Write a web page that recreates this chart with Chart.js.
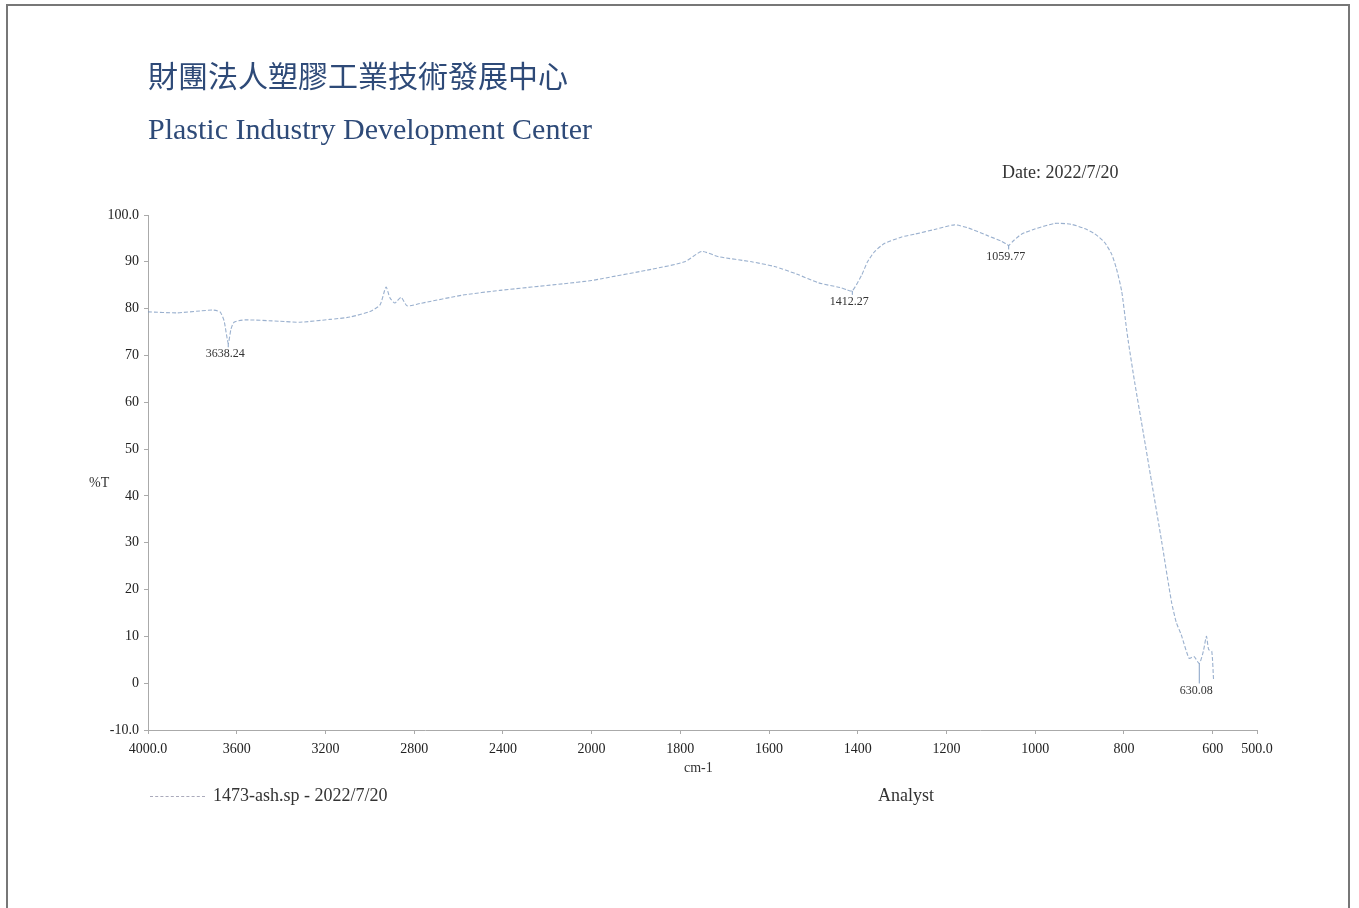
<!DOCTYPE html>
<html>
<head>
<meta charset="utf-8">
<script src="https://cdn.jsdelivr.net/npm/chart.js@4"></script>
<style>
  html, body { margin: 0; padding: 0; background: #fff; }
  body { width: 1359px; height: 908px; position: relative; overflow: hidden; font-family: "Liberation Serif", serif; }
  #chart { position: absolute; left: 0; top: 0; }
  .frame { position: absolute; left: 6px; top: 4px; width: 1344px; height: 920px; border: 2px solid #777; box-sizing: border-box; }
  .txt { position: absolute; white-space: nowrap; }
  .cjk { left: 148px; top: 59px; font: 30px/30px "Noto Sans CJK TC", sans-serif; color: #2e4a78; }
  .eng { left: 148px; top: 114px; font: 30px/30px "Liberation Serif", serif; color: #2e4a78; }
  .date { left: 1002px; top: 163px; font: 18px/18px "Liberation Serif", serif; color: #333; }
  .ylab { left: 89px; top: 475px; font: 14px/16px "Liberation Serif", serif; color: #333; }
  .xlab { left: 684px; top: 760px; font: 14px/16px "Liberation Serif", serif; color: #333; }
  .legend { left: 150px; top: 786px; font: 18px/18px "Liberation Serif", serif; color: #333; }
  .legend .swatch { display: inline-block; width: 55px; border-top: 1px dashed #aab; vertical-align: middle; margin-right: 8px; }
  .analyst { left: 878px; top: 786px; font: 18px/18px "Liberation Serif", serif; color: #333; }
</style>
</head>
<body>
<div class="frame"></div>
<canvas id="chart" width="1359" height="908"></canvas>
<div class="txt cjk">財團法人塑膠工業技術發展中心</div>
<div class="txt eng">Plastic Industry Development Center</div>
<div class="txt date">Date: 2022/7/20</div>
<div class="txt ylab">%T</div>
<div class="txt xlab">cm-1</div>
<div class="txt legend"><span class="swatch"></span>1473-ash.sp - 2022/7/20</div>
<div class="txt analyst">Analyst</div>
<script>
// spectrum (wavenumber cm-1, %T)
const waveNumbers = [4000, 3869, 3766, 3707, 3675, 3657, 3638.24, 3626, 3612, 3563, 3405, 3315, 3180, 3090,
  2999, 2954, 2927, 2909, 2887, 2859, 2832, 2774, 2580, 2413, 2129, 2000, 1977, 1865, 1790, 1752, 1714,
  1639, 1588, 1538, 1488, 1440, 1424, 1412.27, 1391, 1378, 1362, 1340, 1301, 1272, 1227, 1182, 1150,
  1110, 1076, 1065, 1059.77, 1049, 1031, 1001, 956, 918, 889, 866, 844, 828, 817, 805, 794, 790, 776,
  756, 738, 715, 693, 682, 671, 653, 642, 630.08, 621, 614, 609, 602, 598];
const transmittance = [79.3, 79.1, 79.5, 79.7, 79.3, 77.4, 72.6, 75.6, 77.1, 77.6, 77.3, 77.1, 77.7, 78.2,
  79.4, 80.8, 84.6, 82.3, 81.2, 82.4, 80.6, 81.1, 82.9, 83.9, 85.3, 86.0, 86.4, 88.4, 90.0, 92.2, 91.1,
  90.0, 89.0, 87.4, 85.5, 84.5, 84.0, 83.8, 87.2, 90.0, 92.2, 93.9, 95.3, 95.9, 96.9, 97.9, 97.2,
  95.7, 94.4, 93.8, 93.5, 94.5, 95.9, 97.0, 98.2, 98.0, 97.1, 96.0, 94.2, 91.7, 88.6, 83.7, 75.6, 72.9, 64.4,
  53.3, 43.2, 30.3, 17.5, 13.0, 10.4, 5.3, 5.7, 4.2, 6.8, 10.0, 7.2, 6.8, 0.8];

const peakWave = [3638.24, 1412.27, 1059.77, 630.08];
const peakT = [72.6, 83.8, 93.5, 4.2];
const peakLabels = ['3638.24', '1412.27', '1059.77', '630.08'];

const xTicks = [4000, 3600, 3200, 2800, 2400, 2000, 1800, 1600, 1400, 1200, 1000, 800, 600, 500];
const xTickLabels = ['4000.0', '3600', '3200', '2800', '2400', '2000', '1800', '1600', '1400', '1200', '1000', '800', '600', '500.0'];
const yTicks = [100, 90, 80, 70, 60, 50, 40, 30, 20, 10, 0, -10];
const yTickLabels = ['100.0', '90', '80', '70', '60', '50', '40', '30', '20', '10', '0', '-10.0'];

// IR axis: the scale doubles below 2000 cm-1
function toPos(w) {
  return w >= 2000 ? (4000 - w) / 2 : 1000 + (2000 - w);
}
function fromPos(t) {
  return t <= 1000 ? 4000 - 2 * t : 2000 - (t - 1000);
}

class WaveScale extends Chart.LinearScale {
  getPixelForValue(value) {
    const a = toPos(this.max), b = toPos(this.min);
    return this.getPixelForDecimal((toPos(value) - a) / (b - a));
  }
  getValueForPixel(pixel) {
    const a = toPos(this.max), b = toPos(this.min);
    return fromPos(a + this.getDecimalForPixel(pixel) * (b - a));
  }
}
WaveScale.id = 'wave';
WaveScale.defaults = Chart.LinearScale.defaults;
Chart.register(WaveScale);

// peak labels under the marked minima
const peakLabelPlugin = {
  id: 'peakLabels',
  afterDatasetsDraw(chart) {
    const ctx = chart.ctx;
    const x = chart.scales.x, y = chart.scales.y;
    ctx.save();
    ctx.font = '12px "Liberation Serif", serif';
    ctx.fillStyle = '#333';
    ctx.strokeStyle = 'rgba(120,150,190,0.9)';
    ctx.lineWidth = 1;
    ctx.textAlign = 'center';
    ctx.textBaseline = 'top';
    peakWave.forEach((w, i) => {
      // put the label below the lowest nearby point
      let low = peakT[i];
      waveNumbers.forEach((ww, j) => {
        if (Math.abs(ww - w) <= 40) low = Math.min(low, transmittance[j]);
      });
      const px = x.getPixelForValue(w);
      const py = y.getPixelForValue(peakT[i]);
      const ly = y.getPixelForValue(low) + 4;
      ctx.beginPath();
      ctx.moveTo(px, py);
      ctx.lineTo(px, ly);
      ctx.stroke();
      ctx.fillText(peakLabels[i], px - 3, ly + 1);
    });
    ctx.restore();
  }
};

const ctx = document.getElementById('chart').getContext('2d');

const chart = new Chart(ctx, {
  type: 'line',
  data: {
    datasets: [{
      label: '1473-ash.sp - 2022/7/20',
      data: waveNumbers.map((w, i) => ({ x: w, y: transmittance[i] })),
      borderColor: 'rgba(120,150,190,0.75)',
      borderWidth: 1.1,
      borderDash: [4, 2],
      pointRadius: 0,
      tension: 0.2,
      fill: false
    }]
  },
  options: {
    responsive: false,
    animation: false,
    layout: {
      padding: { left: 88, right: 102, top: 215, bottom: 148 }
    },
    scales: {
      x: {
        type: 'wave',
        min: 500,
        max: 4000,
        afterBuildTicks: (axis) => { axis.ticks = xTicks.map(v => ({ value: v })); },
        afterFit: (scale) => { scale.height = 30; },
        ticks: {
          autoSkip: false,
          maxRotation: 0,
          padding: 7,
          color: '#222',
          font: { family: '"Liberation Serif", serif', size: 14 },
          callback: (value, index) => xTickLabels[index]
        },
        grid: { drawOnChartArea: false, drawTicks: true, tickLength: 4, color: '#aaa' },
        border: { display: true, color: '#aaa', dash: [2, 2] }
      },
      y: {
        min: -10,
        max: 100,
        afterBuildTicks: (axis) => { axis.ticks = yTicks.map(v => ({ value: v })); },
        afterFit: (scale) => { scale.width = 60; },
        ticks: {
          padding: 5,
          color: '#222',
          font: { family: '"Liberation Serif", serif', size: 14 },
          callback: (value, index) => yTickLabels[index]
        },
        grid: { drawOnChartArea: false, drawTicks: true, tickLength: 4, color: '#aaa' },
        border: { display: true, color: '#aaa', dash: [2, 2] }
      }
    },
    plugins: {
      legend: { display: false },
      tooltip: { enabled: false }
    }
  },
  plugins: [peakLabelPlugin]
});
</script>
</body>
</html>
